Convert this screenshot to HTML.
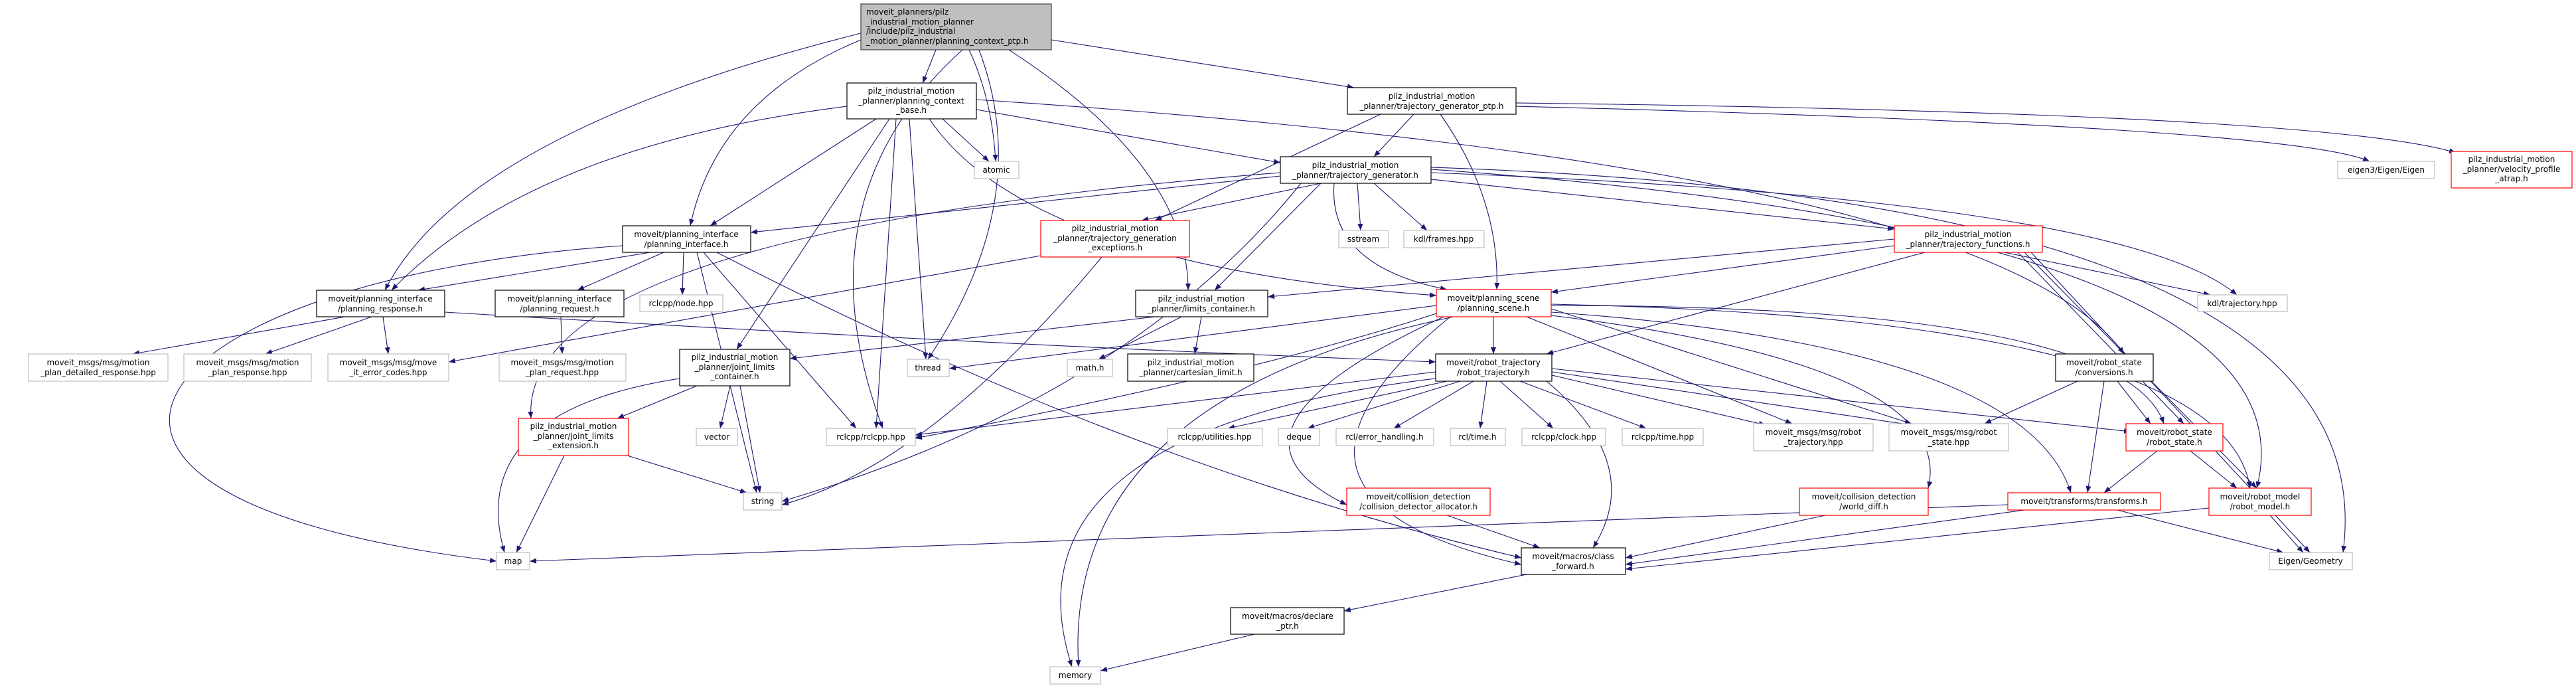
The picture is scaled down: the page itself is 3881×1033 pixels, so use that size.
<!DOCTYPE html>
<html><head><meta charset="utf-8"><style>
html,body{margin:0;padding:0;background:#fff;}
svg{display:block;}
text{font-family:"DejaVu Sans","Liberation Sans",sans-serif;font-size:12px;fill:#000;}
.e{fill:none;stroke:#191970;stroke-width:1.1;marker-end:url(#a);}
.b{fill:#fff;stroke:#000;stroke-width:1.2;}
.g{fill:#fff;stroke:#bfbfbf;stroke-width:1.2;}
.r{fill:#fff;stroke:#ff0000;stroke-width:1.2;}
</style></head><body>
<svg width="3881" height="1033" viewBox="0 0 3881 1033" xmlns="http://www.w3.org/2000/svg">
<defs><marker id="a" markerUnits="userSpaceOnUse" markerWidth="10" markerHeight="8" refX="10" refY="4" orient="auto"><path d="M0,0 L10,4 L0,8 z" fill="#191970"/></marker></defs>
<g>
<path class="e" d="M1410,75 L1390,125"/>
<path class="e" d="M1460,75 Q1495,150 1500,243"/>
<path class="e" d="M1584,60 L2040,132"/>
<path class="e" d="M1475,75 Q1560,300 1398,541"/>
<path class="e" d="M1450,75 Q1200,300 1330,645"/>
<path class="e" d="M1520,75 Q1790,250 1790,437"/>
<path class="e" d="M1297,60 Q1080,150 1040,340"/>
<path class="e" d="M1297,50 Q700,200 580,437"/>
<path class="e" d="M1320,179 L1070,340"/>
<path class="e" d="M1276,160 Q800,220 590,437"/>
<path class="e" d="M1350,179 L1320,645"/>
<path class="e" d="M1370,179 L1395,541"/>
<path class="e" d="M1340,179 L1110,526"/>
<path class="e" d="M1420,179 L1490,243"/>
<path class="e" d="M1471,165 L1929,245"/>
<path class="e" d="M1400,179 Q1550,400 2164,445"/>
<path class="e" d="M1471,150 Q3000,250 3200,533"/>
<path class="e" d="M2130,172 L2070,236"/>
<path class="e" d="M2080,172 L1740,332"/>
<path class="e" d="M2170,172 Q2260,300 2255,436"/>
<path class="e" d="M2284,160 Q3450,190 3570,243"/>
<path class="e" d="M2284,155 Q3500,170 3700,230"/>
<path class="e" d="M1929,265 L1131,350"/>
<path class="e" d="M1990,276 L1720,332"/>
<path class="e" d="M2045,276 L2050,347"/>
<path class="e" d="M2070,276 L2150,347"/>
<path class="e" d="M2156,270 L2854,345"/>
<path class="e" d="M2010,276 Q2000,400 2180,436"/>
<path class="e" d="M1990,276 L1830,437"/>
<path class="e" d="M1960,276 Q1700,600 1178,755"/>
<path class="e" d="M1929,260 Q780,350 800,630"/>
<path class="e" d="M2156,260 Q3200,300 3370,444"/>
<path class="e" d="M2156,255 Q3500,350 3400,735"/>
<path class="e" d="M2156,252 Q3600,300 3530,832"/>
<path class="e" d="M980,380 L630,437"/>
<path class="e" d="M1000,380 L870,437"/>
<path class="e" d="M1030,380 L1028,444"/>
<path class="e" d="M1060,380 L1290,645"/>
<path class="e" d="M1050,380 L1140,742"/>
<path class="e" d="M938,370 C200,420 -50,750 748,845"/>
<path class="e" d="M1080,380 Q1700,700 2292,840"/>
<path class="e" d="M520,477 L200,533"/>
<path class="e" d="M560,477 L400,533"/>
<path class="e" d="M577,477 L585,533"/>
<path class="e" d="M670,470 Q1500,520 2163,545"/>
<path class="e" d="M845,477 L847,533"/>
<path class="e" d="M1568,385 L676,545"/>
<path class="e" d="M1660,387 Q1400,700 1178,760"/>
<path class="e" d="M2854,360 L1910,447"/>
<path class="e" d="M2854,370 L2337,440"/>
<path class="e" d="M2900,380 L2330,533"/>
<path class="e" d="M3020,380 L3330,444"/>
<path class="e" d="M3040,380 L3290,638"/>
<path class="e" d="M3050,380 L3400,735"/>
<path class="e" d="M3060,380 L3480,832"/>
<path class="e" d="M1740,477 L1190,540"/>
<path class="e" d="M1780,477 L1655,541"/>
<path class="e" d="M1810,477 L1800,533"/>
<path class="e" d="M2164,460 L1430,555"/>
<path class="e" d="M2250,477 L2250,533"/>
<path class="e" d="M2170,470 Q1900,560 1379,660"/>
<path class="e" d="M2175,477 Q1800,650 2029,760"/>
<path class="e" d="M2185,477 Q1850,750 2292,850"/>
<path class="e" d="M2190,477 Q1600,600 1625,1004"/>
<path class="e" d="M2300,477 L2700,638"/>
<path class="e" d="M2337,465 L2880,638"/>
<path class="e" d="M2337,460 Q3200,460 3260,638"/>
<path class="e" d="M2337,458 Q3350,480 3390,735"/>
<path class="e" d="M2337,470 Q3050,520 3120,742"/>
<path class="e" d="M2337,475 Q2950,550 2905,735"/>
<path class="e" d="M1050,581 L930,630"/>
<path class="e" d="M1100,581 L1085,645"/>
<path class="e" d="M1115,581 L1145,742"/>
<path class="e" d="M1024,570 Q700,620 760,832"/>
<path class="e" d="M850,686 L778,832"/>
<path class="e" d="M945,686 L1125,742"/>
<path class="e" d="M2163,560 L1379,655"/>
<path class="e" d="M2180,574 L1850,645"/>
<path class="e" d="M2200,574 L1970,645"/>
<path class="e" d="M2220,574 L2100,645"/>
<path class="e" d="M2240,574 L2230,645"/>
<path class="e" d="M2260,574 L2340,645"/>
<path class="e" d="M2290,574 L2480,645"/>
<path class="e" d="M2338,565 L2660,640"/>
<path class="e" d="M2338,560 L2880,640"/>
<path class="e" d="M2338,555 L3210,650"/>
<path class="e" d="M2330,574 Q2480,700 2400,825"/>
<path class="e" d="M2163,570 Q1500,650 1615,1004"/>
<path class="e" d="M3130,574 L2990,638"/>
<path class="e" d="M3190,574 L3240,638"/>
<path class="e" d="M3170,574 L3145,742"/>
<path class="e" d="M3250,679 L3170,742"/>
<path class="e" d="M3300,679 L3370,735"/>
<path class="e" d="M3025,760 L798,845"/>
<path class="e" d="M3050,768 L2449,850"/>
<path class="e" d="M3190,768 L3440,832"/>
<path class="e" d="M3328,765 L2449,857"/>
<path class="e" d="M3420,776 L3470,832"/>
<path class="e" d="M2750,776 L2449,840"/>
<path class="e" d="M2180,776 L2320,825"/>
<path class="e" d="M2300,865 L2025,920"/>
<path class="e" d="M1890,955 L1658,1010"/>
</g>
<g>
<rect x="1297" y="6" width="287" height="69" fill="#bfbfbf" stroke="#404040" stroke-width="1.2"/>
<text x="1305" y="22">moveit_planners/pilz</text>
<text x="1305" y="37">_industrial_motion_planner</text>
<text x="1305" y="51">/include/pilz_industrial</text>
<text x="1305" y="66">_motion_planner/planning_context_ptp.h</text>
</g>
<g text-anchor="middle">
<rect class="b" x="1276" y="125" width="195" height="54"/><text x="1373" y="141">pilz_industrial_motion</text><text x="1373" y="156">_planner/planning_context</text><text x="1373" y="170">_base.h</text>
<rect class="g" x="1468" y="243" width="67" height="26"/><text x="1501" y="260">atomic</text>
<rect class="b" x="2030" y="132" width="254" height="40"/><text x="2157" y="149">pilz_industrial_motion</text><text x="2157" y="164">_planner/trajectory_generator_ptp.h</text>
<rect class="g" x="3522" y="243" width="146" height="26"/><text x="3595" y="260">eigen3/Eigen/Eigen</text>
<rect class="r" x="3693" y="228" width="182" height="55"/><text x="3784" y="244">pilz_industrial_motion</text><text x="3784" y="259">_planner/velocity_profile</text><text x="3784" y="273">_atrap.h</text>
<rect class="b" x="1929" y="236" width="227" height="40"/><text x="2042" y="253">pilz_industrial_motion</text><text x="2042" y="268">_planner/trajectory_generator.h</text>
<rect class="b" x="938" y="340" width="193" height="40"/><text x="1034" y="357">moveit/planning_interface</text><text x="1034" y="372">/planning_interface.h</text>
<rect class="r" x="1568" y="332" width="224" height="55"/><text x="1680" y="348">pilz_industrial_motion</text><text x="1680" y="363">_planner/trajectory_generation</text><text x="1680" y="377">_exceptions.h</text>
<rect class="g" x="2017" y="347" width="75" height="26"/><text x="2054" y="364">sstream</text>
<rect class="g" x="2115" y="347" width="121" height="26"/><text x="2175" y="364">kdl/frames.hpp</text>
<rect class="r" x="2854" y="340" width="223" height="40"/><text x="2965" y="357">pilz_industrial_motion</text><text x="2965" y="372">_planner/trajectory_functions.h</text>
<rect class="b" x="477" y="437" width="193" height="40"/><text x="573" y="454">moveit/planning_interface</text><text x="573" y="469">/planning_response.h</text>
<rect class="b" x="746" y="437" width="194" height="40"/><text x="843" y="454">moveit/planning_interface</text><text x="843" y="469">/planning_request.h</text>
<rect class="g" x="964" y="444" width="125" height="25"/><text x="1026" y="461">rclcpp/node.hpp</text>
<rect class="b" x="1711" y="437" width="199" height="40"/><text x="1810" y="454">pilz_industrial_motion</text><text x="1810" y="469">_planner/limits_container.h</text>
<rect class="r" x="2164" y="436" width="173" height="41"/><text x="2250" y="453">moveit/planning_scene</text><text x="2250" y="468">/planning_scene.h</text>
<rect class="g" x="3311" y="444" width="135" height="25"/><text x="3378" y="461">kdl/trajectory.hpp</text>
<rect class="g" x="43" y="533" width="210" height="41"/><text x="148" y="550">moveit_msgs/msg/motion</text><text x="148" y="565">_plan_detailed_response.hpp</text>
<rect class="g" x="277" y="533" width="192" height="41"/><text x="373" y="550">moveit_msgs/msg/motion</text><text x="373" y="565">_plan_response.hpp</text>
<rect class="g" x="494" y="533" width="182" height="41"/><text x="585" y="550">moveit_msgs/msg/move</text><text x="585" y="565">_it_error_codes.hpp</text>
<rect class="g" x="752" y="533" width="191" height="41"/><text x="847" y="550">moveit_msgs/msg/motion</text><text x="847" y="565">_plan_request.hpp</text>
<rect class="b" x="1024" y="526" width="166" height="55"/><text x="1107" y="542">pilz_industrial_motion</text><text x="1107" y="557">_planner/joint_limits</text><text x="1107" y="571">_container.h</text>
<rect class="g" x="1367" y="541" width="63" height="26"/><text x="1398" y="558">thread</text>
<rect class="g" x="1608" y="541" width="68" height="26"/><text x="1642" y="558">math.h</text>
<rect class="b" x="1699" y="533" width="190" height="41"/><text x="1794" y="550">pilz_industrial_motion</text><text x="1794" y="565">_planner/cartesian_limit.h</text>
<rect class="b" x="2163" y="533" width="175" height="41"/><text x="2250" y="550">moveit/robot_trajectory</text><text x="2250" y="565">/robot_trajectory.h</text>
<rect class="b" x="3097" y="533" width="147" height="41"/><text x="3170" y="550">moveit/robot_state</text><text x="3170" y="565">/conversions.h</text>
<rect class="g" x="1245" y="645" width="134" height="26"/><text x="1312" y="662">rclcpp/rclcpp.hpp</text>
<rect class="g" x="1049" y="645" width="62" height="26"/><text x="1080" y="662">vector</text>
<rect class="g" x="1759" y="645" width="143" height="26"/><text x="1830" y="662">rclcpp/utilities.hpp</text>
<rect class="g" x="1926" y="645" width="62" height="26"/><text x="1957" y="662">deque</text>
<rect class="g" x="2013" y="645" width="147" height="26"/><text x="2086" y="662">rcl/error_handling.h</text>
<rect class="g" x="2185" y="645" width="83" height="26"/><text x="2226" y="662">rcl/time.h</text>
<rect class="g" x="2293" y="645" width="126" height="26"/><text x="2356" y="662">rclcpp/clock.hpp</text>
<rect class="g" x="2444" y="645" width="122" height="26"/><text x="2505" y="662">rclcpp/time.hpp</text>
<rect class="g" x="2642" y="638" width="180" height="41"/><text x="2732" y="655">moveit_msgs/msg/robot</text><text x="2732" y="670">_trajectory.hpp</text>
<rect class="g" x="2846" y="638" width="180" height="41"/><text x="2936" y="655">moveit_msgs/msg/robot</text><text x="2936" y="670">_state.hpp</text>
<rect class="r" x="3203" y="638" width="146" height="41"/><text x="3276" y="655">moveit/robot_state</text><text x="3276" y="670">/robot_state.h</text>
<rect class="r" x="781" y="630" width="166" height="56"/><text x="864" y="646">pilz_industrial_motion</text><text x="864" y="661">_planner/joint_limits</text><text x="864" y="675">_extension.h</text>
<rect class="g" x="1120" y="742" width="58" height="26"/><text x="1149" y="759">string</text>
<rect class="r" x="2029" y="735" width="216" height="41"/><text x="2137" y="752">moveit/collision_detection</text><text x="2137" y="767">/collision_detector_allocator.h</text>
<rect class="r" x="2711" y="735" width="194" height="41"/><text x="2808" y="752">moveit/collision_detection</text><text x="2808" y="767">/world_diff.h</text>
<rect class="r" x="3025" y="742" width="230" height="26"/><text x="3140" y="759">moveit/transforms/transforms.h</text>
<rect class="r" x="3328" y="735" width="154" height="41"/><text x="3405" y="752">moveit/robot_model</text><text x="3405" y="767">/robot_model.h</text>
<rect class="g" x="748" y="832" width="50" height="26"/><text x="773" y="849">map</text>
<rect class="b" x="2292" y="825" width="157" height="40"/><text x="2370" y="842">moveit/macros/class</text><text x="2370" y="857">_forward.h</text>
<rect class="g" x="3419" y="832" width="125" height="26"/><text x="3481" y="849">Eigen/Geometry</text>
<rect class="b" x="1854" y="915" width="171" height="40"/><text x="1940" y="932">moveit/macros/declare</text><text x="1940" y="947">_ptr.h</text>
<rect class="g" x="1582" y="1004" width="76" height="26"/><text x="1620" y="1021">memory</text>
</g>
</svg>
</body></html>
